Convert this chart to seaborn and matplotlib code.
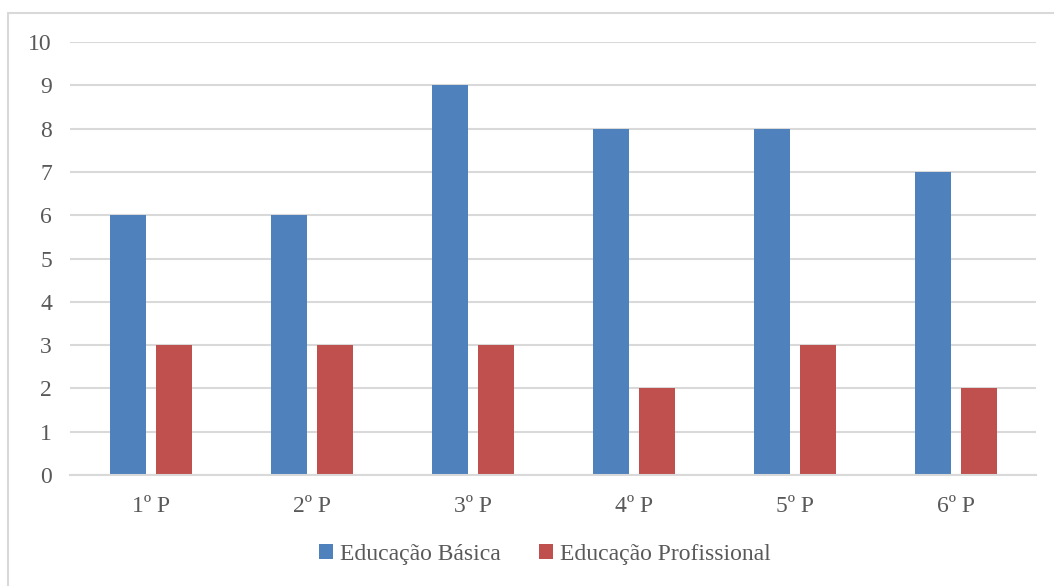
import matplotlib
matplotlib.use("Agg")
import matplotlib.pyplot as plt
import seaborn as sns
import pandas as pd
from matplotlib.patches import Rectangle

periodos = ["1º P", "2º P", "3º P", "4º P", "5º P", "6º P"]
educacao_basica = [6, 6, 9, 8, 8, 7]
educacao_profissional = [3, 3, 3, 2, 3, 2]
series = ["Educação Básica", "Educação Profissional"]
cores = ["#4F81BD", "#C0504D"]
y_ticks = list(range(0, 11))

df = pd.DataFrame({
    "Período": periodos * 2,
    "Valor": educacao_basica + educacao_profissional,
    "Série": [series[0]] * len(periodos) + [series[1]] * len(periodos),
})

sns.set_theme(style="white")
plt.rcParams["font.family"] = ["Liberation Serif", "DejaVu Serif"]

texto = "#595959"
grade = "#D9D9D9"
fs = 17

fig = plt.figure(figsize=(10.54, 5.86), dpi=100)
ax = fig.add_axes([0.0665, 0.1894, 0.9165, 0.7389])

sns.barplot(data=df, x="Período", y="Valor", hue="Série", order=periodos,
            hue_order=series, palette=cores, width=0.571, gap=0.217,
            saturation=1, linewidth=0, ax=ax, legend=True)

ax.set_ylim(0, 10)
ax.set_yticks(y_ticks)
ax.set_xlim(-0.5, len(periodos) - 0.5)
ax.yaxis.grid(True, color=grade, linewidth=1.5)
ax.set_axisbelow(True)
for s in ["top", "right", "left"]:
    ax.spines[s].set_visible(False)
ax.spines["bottom"].set_color(grade)
ax.spines["bottom"].set_linewidth(1.5)
ax.tick_params(axis="both", length=0, labelsize=fs, colors=texto)
ax.tick_params(axis="x", pad=15)
ax.tick_params(axis="y", pad=13)
ax.set_xlabel("")
ax.set_ylabel("")

leg = ax.legend(loc="center", bbox_to_anchor=(0.517, 0.054), bbox_transform=fig.transFigure,
                ncol=2, frameon=False, fontsize=fs, handlelength=0.6, handleheight=0.6,
                handletextpad=0.3, columnspacing=1.6)
for t in leg.get_texts():
    t.set_color(texto)

# outer chart frame
fig.patches.append(Rectangle((8 / 1054, -0.01), (1054 - 8) / 1054 + 0.01, 1 - 13 / 586 + 0.01,
                             transform=fig.transFigure, fill=False,
                             edgecolor=grade, linewidth=1.5))

fig.savefig("out.png", dpi=100)
